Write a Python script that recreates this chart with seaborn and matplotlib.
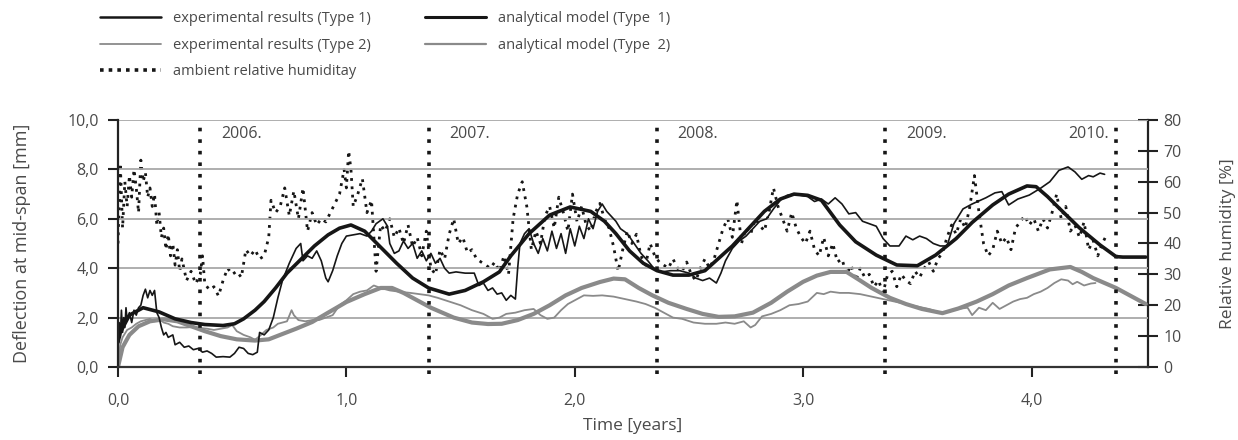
import matplotlib
matplotlib.use("Agg")
import matplotlib.pyplot as plt
from matplotlib.lines import Line2D
import seaborn as sns

# ---------------- data ----------------
an1_t = [0.00, 0.01, 0.05, 0.11, 0.18, 0.25, 0.32, 0.38, 0.46, 0.51, 0.55, 0.60, 0.64, 0.69, 0.74,
         0.80, 0.86, 0.92, 0.97, 1.02, 1.08, 1.15, 1.22, 1.29, 1.36, 1.45, 1.52, 1.60, 1.67, 1.72,
         1.80, 1.89, 1.98, 2.07, 2.13, 2.18, 2.24, 2.30, 2.36, 2.43, 2.50, 2.57, 2.63, 2.69, 2.76,
         2.83, 2.90, 2.96, 3.02, 3.08, 3.16, 3.23, 3.32, 3.41, 3.50, 3.58, 3.67, 3.74, 3.83, 3.90,
         3.98, 4.02, 4.07, 4.12, 4.21, 4.30, 4.37, 4.40, 4.50]
an1_v = [1.00, 1.40, 2.10, 2.40, 2.23, 1.95, 1.80, 1.72, 1.68, 1.75, 1.95, 2.30, 2.65, 3.20, 3.80,
         4.35, 4.90, 5.35, 5.62, 5.75, 5.50, 4.85, 4.20, 3.60, 3.20, 2.95, 3.10, 3.45, 3.85, 4.50,
         5.40, 6.15, 6.48, 6.30, 5.90, 5.40, 4.70, 4.20, 3.90, 3.72, 3.72, 3.90, 4.40, 4.90, 5.60,
         6.30, 6.80, 7.00, 6.95, 6.75, 5.75, 5.07, 4.53, 4.13, 4.10, 4.53, 5.20, 5.85, 6.56, 7.00,
         7.33, 7.30, 6.90, 6.44, 5.63, 4.94, 4.47, 4.45, 4.45]

an2_t = [0.00, 0.02, 0.05, 0.09, 0.14, 0.20, 0.26, 0.32, 0.38, 0.45, 0.52, 0.60, 0.66, 0.71, 0.78,
         0.85, 0.92, 1.00, 1.08, 1.15, 1.20, 1.25, 1.29, 1.37, 1.47, 1.55, 1.62, 1.68, 1.75, 1.82,
         1.89, 1.96, 2.03, 2.11, 2.17, 2.22, 2.28, 2.34, 2.41, 2.49, 2.56, 2.63, 2.70, 2.78, 2.86,
         2.93, 3.00, 3.06, 3.12, 3.19, 3.25, 3.30, 3.38, 3.45, 3.52, 3.61, 3.68, 3.76, 3.83, 3.90,
         3.98, 4.08, 4.17, 4.22, 4.27, 4.37, 4.44, 4.50]
an2_v = [0.00, 0.80, 1.30, 1.65, 1.85, 1.93, 1.85, 1.65, 1.45, 1.25, 1.12, 1.07, 1.12, 1.30, 1.55,
         1.82, 2.20, 2.63, 2.95, 3.20, 3.20, 3.00, 2.80, 2.40, 2.00, 1.80, 1.74, 1.75, 1.90, 2.15,
         2.50, 2.90, 3.20, 3.44, 3.58, 3.55, 3.20, 2.90, 2.60, 2.35, 2.15, 2.03, 2.05, 2.20, 2.60,
         3.05, 3.45, 3.70, 3.85, 3.85, 3.50, 3.20, 2.80, 2.55, 2.35, 2.18, 2.37, 2.65, 2.95, 3.30,
         3.60, 3.95, 4.05, 3.85, 3.60, 3.20, 2.85, 2.55]

exp1_t = [0.000, 0.005, 0.010, 0.015, 0.020, 0.025, 0.030, 0.035, 0.040, 0.050, 0.060, 0.070,
          0.080, 0.090, 0.100, 0.110, 0.120, 0.130, 0.140, 0.150, 0.160, 0.170, 0.180, 0.190,
          0.200, 0.210, 0.220, 0.240, 0.250, 0.270, 0.290, 0.310, 0.330, 0.350, 0.370, 0.390,
          0.410, 0.430, 0.460, 0.490, 0.510, 0.530, 0.550, 0.570, 0.590, 0.610, 0.620, 0.640,
          0.660, 0.680, 0.700, 0.720, 0.750, 0.780, 0.800, 0.810, 0.830, 0.850, 0.870, 0.890,
          0.910, 0.920, 0.940, 0.960, 0.980, 1.000, 1.030, 1.060, 1.090, 1.110, 1.130, 1.160,
          1.180, 1.190, 1.210, 1.230, 1.250, 1.270, 1.290, 1.310, 1.330, 1.350, 1.370, 1.390,
          1.410, 1.430, 1.450, 1.480, 1.520, 1.560, 1.580, 1.600, 1.620, 1.640, 1.660, 1.680,
          1.700, 1.720, 1.740, 1.750, 1.760, 1.780, 1.800, 1.820, 1.840, 1.860, 1.880, 1.900,
          1.920, 1.940, 1.960, 1.980, 2.000, 2.020, 2.040, 2.060, 2.080, 2.100, 2.120, 2.140,
          2.160, 2.180, 2.200, 2.230, 2.260, 2.290, 2.320, 2.350, 2.380, 2.420, 2.460, 2.500,
          2.530, 2.560, 2.590, 2.620, 2.640, 2.660, 2.690, 2.720, 2.750, 2.780, 2.810, 2.840,
          2.870, 2.900, 2.930, 2.960, 2.990, 3.020, 3.050, 3.080, 3.110, 3.140, 3.170, 3.200,
          3.230, 3.260, 3.290, 3.320, 3.350, 3.380, 3.420, 3.450, 3.480, 3.510, 3.540, 3.570,
          3.600, 3.630, 3.660, 3.700, 3.740, 3.800, 3.840, 3.870, 3.900, 3.940, 3.990, 4.040,
          4.080, 4.120, 4.160, 4.190, 4.220, 4.250, 4.270, 4.300, 4.320]
exp1_v = [0.60, 1.80, 1.20, 2.30, 1.40, 2.00, 1.60, 2.40, 1.90, 2.20, 1.80, 2.30,
          2.10, 2.40, 2.50, 2.90, 3.15, 2.80, 3.10, 2.90, 3.10, 2.20, 2.00, 1.60,
          1.30, 1.40, 1.20, 1.30, 0.90, 1.00, 0.80, 0.85, 0.70, 0.75, 0.60, 0.65,
          0.55, 0.40, 0.42, 0.40, 0.55, 0.80, 0.75, 0.55, 0.50, 0.60, 1.40, 1.30,
          1.50, 2.00, 2.80, 3.50, 4.20, 4.80, 5.00, 4.30, 4.50, 4.40, 4.70, 4.30,
          3.60, 3.45, 3.90, 4.50, 5.00, 5.30, 5.35, 5.40, 5.30, 5.50, 5.80, 6.00,
          5.70, 5.00, 4.60, 4.70, 5.10, 4.80, 5.00, 4.40, 4.70, 4.30, 4.60, 4.20,
          4.40, 4.00, 3.80, 3.85, 3.80, 3.80, 3.30, 3.40, 3.10, 3.20, 2.95, 3.00,
          2.70, 2.90, 2.75, 4.00, 5.00, 5.40, 5.60, 5.00, 4.60, 5.20, 4.70, 5.50,
          4.80, 5.40, 4.60, 5.60, 4.90, 5.70, 5.20, 6.00, 5.60, 6.30, 6.60, 6.30,
          6.10, 5.90, 5.60, 5.40, 5.00, 4.60, 4.30, 3.95, 3.85, 3.90, 3.90, 3.80,
          3.60, 3.50, 3.60, 3.40, 3.80, 4.30, 4.80, 5.10, 5.30, 5.60, 5.90, 6.00,
          6.40, 6.75, 6.95, 7.00, 6.95, 6.90, 6.70, 6.80, 6.60, 6.85, 6.60, 6.20,
          6.25, 5.90, 5.80, 5.70, 5.20, 4.90, 4.90, 5.30, 5.15, 5.30, 5.20, 5.00,
          4.90, 4.90, 5.80, 6.40, 6.60, 6.85, 7.05, 7.10, 6.56, 6.80, 6.96, 7.24,
          7.50, 7.96, 8.10, 7.90, 7.60, 7.75, 7.70, 7.85, 7.80]

exp2_t = [0.00, 0.01, 0.02, 0.04, 0.06, 0.08, 0.10, 0.12, 0.14, 0.16, 0.18, 0.20, 0.22, 0.24,
          0.27, 0.30, 0.33, 0.36, 0.39, 0.42, 0.45, 0.48, 0.50, 0.52, 0.55, 0.58, 0.60, 0.62,
          0.65, 0.68, 0.70, 0.72, 0.74, 0.76, 0.77, 0.79, 0.82, 0.85, 0.88, 0.91, 0.94, 0.97,
          1.00, 1.03, 1.06, 1.09, 1.12, 1.15, 1.19, 1.23, 1.28, 1.32, 1.36, 1.40, 1.45, 1.50,
          1.55, 1.60, 1.64, 1.67, 1.70, 1.74, 1.78, 1.82, 1.85, 1.88, 1.91, 1.94, 1.97, 2.00,
          2.04, 2.08, 2.12, 2.17, 2.22, 2.27, 2.31, 2.35, 2.39, 2.43, 2.47, 2.52, 2.57, 2.62,
          2.66, 2.70, 2.74, 2.77, 2.79, 2.82, 2.86, 2.90, 2.94, 2.98, 3.02, 3.06, 3.09, 3.12,
          3.16, 3.20, 3.25, 3.30, 3.35, 3.40, 3.45, 3.50, 3.55, 3.60, 3.64, 3.68, 3.72, 3.74,
          3.77, 3.80, 3.83, 3.86, 3.89, 3.92, 3.95, 3.98, 4.01, 4.04, 4.07, 4.10, 4.13, 4.16,
          4.18, 4.20, 4.23, 4.26, 4.28]
exp2_v = [0.20, 0.90, 1.20, 1.50, 1.60, 1.75, 1.85, 1.90, 1.95, 1.85, 1.95, 1.80, 1.75, 1.65,
          1.60, 1.60, 1.62, 1.58, 1.55, 1.50, 1.55, 1.60, 1.70, 1.45, 1.30, 1.20, 1.10, 1.25,
          1.50, 1.60, 1.75, 1.80, 1.85, 2.30, 2.10, 1.90, 1.85, 1.90, 1.90, 2.00, 2.10, 2.50,
          2.70, 2.95, 3.05, 3.10, 3.30, 3.20, 3.10, 3.05, 3.00, 2.95, 2.90, 2.80, 2.65, 2.50,
          2.30, 2.15, 1.95, 2.00, 2.15, 2.20, 2.30, 2.35, 2.10, 1.95, 2.00, 2.30, 2.55, 2.70,
          2.90, 2.88, 2.90, 2.85, 2.75, 2.65, 2.55, 2.40, 2.20, 2.00, 1.95, 1.80, 1.75, 1.75,
          1.80, 1.75, 1.85, 1.60, 1.70, 2.05, 2.15, 2.30, 2.50, 2.55, 2.65, 3.00, 2.95, 3.05,
          3.00, 3.00, 2.95, 2.85, 2.75, 2.65, 2.55, 2.45, 2.35, 2.20, 2.25, 2.35, 2.40, 2.10,
          2.40, 2.30, 2.60, 2.35, 2.50, 2.65, 2.75, 2.80, 2.95, 3.05, 3.20, 3.40, 3.55, 3.50,
          3.35, 3.45, 3.30, 3.38, 3.40]

hum_t = [0.00, 0.01, 0.02, 0.03, 0.04, 0.05, 0.06, 0.07, 0.08, 0.09, 0.10, 0.11, 0.12, 0.13,
         0.14, 0.15, 0.16, 0.17, 0.18, 0.19, 0.20, 0.21, 0.22, 0.23, 0.24, 0.25, 0.26, 0.27,
         0.28, 0.30, 0.32, 0.34, 0.36, 0.37, 0.38, 0.40, 0.42, 0.44, 0.46, 0.48, 0.50, 0.52,
         0.54, 0.56, 0.58, 0.60, 0.62, 0.64, 0.66, 0.67, 0.69, 0.71, 0.73, 0.75, 0.77, 0.79,
         0.81, 0.83, 0.85, 0.87, 0.89, 0.91, 0.93, 0.95, 0.97, 0.99, 1.00, 1.01, 1.02, 1.03,
         1.05, 1.07, 1.09, 1.11, 1.13, 1.15, 1.17, 1.19, 1.21, 1.23, 1.25, 1.27, 1.29, 1.31,
         1.33, 1.35, 1.37, 1.39, 1.41, 1.43, 1.45, 1.47, 1.49, 1.51, 1.53, 1.55, 1.57, 1.59,
         1.61, 1.63, 1.65, 1.67, 1.69, 1.71, 1.73, 1.75, 1.77, 1.79, 1.81, 1.83, 1.85, 1.87,
         1.89, 1.91, 1.93, 1.95, 1.97, 1.99, 2.01, 2.03, 2.05, 2.07, 2.09, 2.11, 2.13, 2.15,
         2.17, 2.19, 2.21, 2.23, 2.25, 2.27, 2.29, 2.31, 2.33, 2.35, 2.37, 2.39, 2.41, 2.43,
         2.45, 2.47, 2.49, 2.51, 2.53, 2.55, 2.57, 2.59, 2.61, 2.63, 2.65, 2.67, 2.69, 2.71,
         2.73, 2.75, 2.77, 2.79, 2.81, 2.83, 2.85, 2.87, 2.89, 2.91, 2.93, 2.95, 2.97, 2.99,
         3.01, 3.03, 3.05, 3.07, 3.09, 3.11, 3.13, 3.15, 3.17, 3.19, 3.21, 3.23, 3.25, 3.27,
         3.29, 3.31, 3.33, 3.35, 3.37, 3.39, 3.41, 3.43, 3.45, 3.47, 3.49, 3.51, 3.53, 3.55,
         3.57, 3.59, 3.61, 3.63, 3.65, 3.67, 3.69, 3.71, 3.73, 3.75, 3.77, 3.79, 3.81, 3.83,
         3.85, 3.87, 3.89, 3.91, 3.93, 3.95, 3.97, 3.99, 4.01, 4.03, 4.05, 4.07, 4.09, 4.11,
         4.13, 4.15, 4.17, 4.19, 4.21, 4.23, 4.25, 4.27, 4.29, 4.31, 4.33]
hum_v = [40, 66, 45, 60, 52, 62, 55, 64, 58, 50, 67, 60, 63, 55,
         58, 52, 56, 46, 50, 42, 45, 38, 43, 36, 40, 33, 38, 31,
         35, 28, 31, 27, 30, 36, 27, 25, 26, 23, 28, 32, 30, 31,
         29, 38, 36, 38, 35, 36, 42, 54, 50, 52, 58, 49, 57, 48,
         58, 44, 50, 46, 48, 47, 50, 53, 56, 64, 58, 70, 64, 52,
         56, 61, 50, 54, 31, 46, 44, 48, 42, 45, 40, 46, 39, 42,
         36, 44, 32, 30, 38, 35, 43, 48, 40, 42, 37, 38, 35, 34,
         33, 32, 34, 31, 36, 30, 48, 56, 60, 52, 38, 44, 40, 49,
         52, 45, 55, 50, 44, 56, 47, 52, 46, 44, 50, 53, 48, 45,
         39, 31, 38, 44, 40, 43, 36, 33, 40, 36, 34, 33, 32, 35,
         32, 31, 34, 30, 28, 32, 35, 32, 35, 40, 45, 48, 42, 54,
         40, 45, 43, 48, 46, 44, 50, 58, 52, 48, 44, 50, 45, 42,
         40, 44, 38, 36, 42, 36, 40, 34, 35, 30, 33, 28, 32, 29,
         30, 26, 28, 24, 30, 31, 26, 30, 28, 27, 31, 29, 32, 34,
         31, 35, 37, 42, 46, 43, 48, 45, 52, 62, 50, 40, 36, 38,
         44, 40, 42, 38, 45, 47, 49, 46, 48, 44, 48, 45, 50, 56,
         48, 52, 44, 46, 42, 47, 38, 41, 36, 40, 43]

year_lines = [0.36, 1.36, 2.36, 3.36, 4.37]
year_labels = ["2006.", "2007.", "2008.", "2009.", "2010."]

x_ticks = [0, 1, 2, 3, 4]
x_ticklabels = ["0,0", "1,0", "2,0", "3,0", "4,0"]
y_ticks = [0, 2, 4, 6, 8, 10]
y_ticklabels = ["0,0", "2,0", "4,0", "6,0", "8,0", "10,0"]
rh_ticks = [0, 10, 20, 30, 40, 50, 60, 70, 80]
rh_ticklabels = ["0", "10", "20", "30", "40", "50", "60", "70", "80"]

labels = ["experimental results (Type 1)", "experimental results (Type 2)",
          "ambient relative humiditay", "analytical model (Type  1)", "analytical model (Type  2)"]

# ---------------- style ----------------
sns.set_style("white")
plt.rcParams["font.family"] = ["Open Sans", "DejaVu Sans"]
TXT = "#4a4a4a"
BLACK = "#161616"
GRAY = "#8a8a8a"
FS = 11.5

fig = plt.figure(figsize=(12.38, 4.4), dpi=100)
ax = fig.add_axes([118 / 1238, 73 / 440, 1030 / 1238, 247 / 440])
ax2 = ax.twinx()
ax.set_zorder(ax2.get_zorder() + 1)
ax.patch.set_visible(False)

# humidity on the right axis
sns.lineplot(x=hum_t, y=hum_v, ax=ax2, color=BLACK, linewidth=2.0, linestyle=(0, (1, 2.0)),
             estimator=None, sort=False)
ax2.set_ylim(0, 80)
ax2.set_yticks(rh_ticks)
ax2.set_yticklabels(rh_ticklabels)

# deflection curves
sns.lineplot(x=exp2_t, y=exp2_v, ax=ax, color=GRAY, linewidth=1.3, estimator=None, sort=False)
sns.lineplot(x=an2_t, y=an2_v, ax=ax, color=GRAY, linewidth=3.0, estimator=None, sort=False)
sns.lineplot(x=exp1_t, y=exp1_v, ax=ax, color=BLACK, linewidth=1.2, estimator=None, sort=False)
sns.lineplot(x=an1_t, y=an1_v, ax=ax, color=BLACK, linewidth=2.6, estimator=None, sort=False)

for xl, lab in zip(year_lines, year_labels):
    ax.axvline(xl, ymin=-0.03, ymax=1.0, color=BLACK, linewidth=2.6, linestyle=(0, (1, 2.2)),
               clip_on=False, zorder=5)
    if lab == "2010.":
        ax.text(xl - 0.03, 9.45, lab, ha="right", va="center", fontsize=FS, color=TXT)
    else:
        ax.text(xl + 0.09, 9.45, lab, ha="left", va="center", fontsize=FS, color=TXT)

ax.set_xlim(0, 4.51)
ax.set_ylim(0, 10)
ax.set_xticks(x_ticks)
ax.set_xticklabels(x_ticklabels)
ax.set_yticks(y_ticks)
ax.set_yticklabels(y_ticklabels)
ax.yaxis.grid(True, color="#a8a8a8", linewidth=1.3)
ax.xaxis.grid(False)
ax.set_axisbelow(True)

for a in (ax, ax2):
    for s in a.spines.values():
        s.set_visible(False)
ax.spines["left"].set_visible(True)
ax.spines["left"].set_color("#222222")
ax.spines["left"].set_linewidth(1.6)
ax.spines["bottom"].set_visible(True)
ax.spines["bottom"].set_color("#333333")
ax.spines["bottom"].set_linewidth(1.6)
ax2.spines["right"].set_visible(True)
ax2.spines["right"].set_color("#222222")
ax2.spines["right"].set_linewidth(1.6)

ax.tick_params(axis="y", direction="out", length=7, width=1.5, color="#222222",
               labelsize=FS, labelcolor=TXT, pad=7, left=True)
ax.tick_params(axis="x", direction="out", length=7, width=1.5, color="#222222",
               labelsize=FS, labelcolor=TXT, pad=12, bottom=True)
ax2.tick_params(axis="y", direction="inout", length=14, width=1.5, color="#222222",
                labelsize=FS, labelcolor=TXT, pad=4, right=True)

ax.set_xlabel("Time [years]", fontsize=12.5, color=TXT, labelpad=6)
ax.set_ylabel("Deflection at mid-span [mm]", fontsize=13, color=TXT, labelpad=26)
ax2.set_ylabel("Relative humidity [%]", fontsize=12.5, color=TXT, labelpad=28)

# legend
h_exp1 = Line2D([], [], color=BLACK, linewidth=1.8)
h_exp2 = Line2D([], [], color=GRAY, linewidth=1.3)
h_hum = Line2D([], [], color=BLACK, linewidth=2.6, linestyle=(0, (1, 1.4)))
h_an1 = Line2D([], [], color=BLACK, linewidth=2.2)
h_an2 = Line2D([], [], color=GRAY, linewidth=1.6)

kw = dict(frameon=False, fontsize=10.5, handlelength=4.2, handletextpad=0.8,
          labelspacing=0.8, borderpad=0, borderaxespad=0, loc="upper left", labelcolor=TXT)
fig.legend([h_exp1, h_exp2, h_hum], labels[:3], bbox_to_anchor=(100 / 1238, 1 - 11 / 440), **kw)
fig.legend([h_an1, h_an2], labels[3:], bbox_to_anchor=(425 / 1238, 1 - 11 / 440), **kw)

fig.savefig("out.png", dpi=100)
